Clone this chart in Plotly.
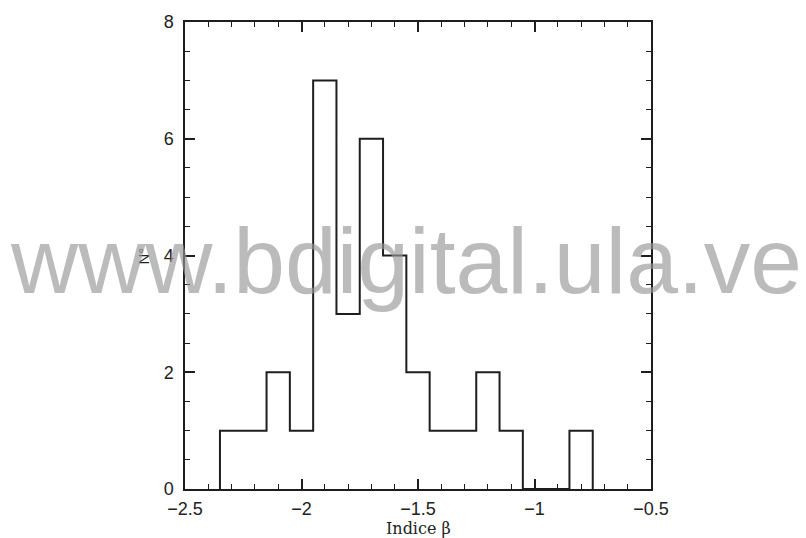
import plotly.graph_objects as go

# Data
bin_edges = [-2.35, -2.25, -2.15, -2.05, -1.95, -1.85, -1.75, -1.65, -1.55,
             -1.45, -1.35, -1.25, -1.15, -1.05, -0.95, -0.85, -0.75]
counts = [1, 1, 2, 1, 7, 3, 6, 4, 2, 1, 1, 2, 1, 0, 0, 1]

x_label = "Indice β"
y_label = "N°"
watermark = "www.bdigital.ula.ve"

# step outline (hv) from bin edges and counts
xs = [bin_edges[0]] + bin_edges[:-1] + [bin_edges[-1]]
ys = [0] + counts + [0]

W, H = 806, 538
L, R, T, B = 185, 155, 17, 49

fig = go.Figure()
fig.add_trace(go.Scatter(
    x=xs, y=ys, mode="lines", line_shape="hv",
    line=dict(color="#1e1e1e", width=2), hoverinfo="skip", showlegend=False,
))

axis_common = dict(
    showgrid=False, zeroline=False, showline=True, linecolor="#1e1e1e",
    linewidth=1.5, mirror="ticks", ticks="inside", tickcolor="#1e1e1e",
    tickwidth=1.5, ticklen=10,
    tickfont=dict(family="Liberation Sans, Arial, sans-serif", size=18, color="#222"),
)

fig.update_xaxes(
    range=[-2.5, -0.5], tickmode="linear", tick0=-2.5, dtick=0.5,
    minor=dict(dtick=0.1, ticks="inside", ticklen=5, tickcolor="#1e1e1e", tickwidth=1.2),
    ticklabelstandoff=3,
    **axis_common,
)
fig.update_yaxes(
    range=[0, 8], tickmode="linear", tick0=0, dtick=2,
    minor=dict(dtick=0.5, ticks="inside", ticklen=5, tickcolor="#1e1e1e", tickwidth=1.2),
    ticklabelstandoff=6,
    **axis_common,
)

pw = W - L - R
ph = H - T - B

fig.add_annotation(
    text=x_label, xref="paper", yref="paper", x=0.5, y=-(528.5 - (H - B)) / ph,
    xanchor="center", yanchor="middle", showarrow=False,
    font=dict(family="DejaVu Serif, Times New Roman, serif", size=16, color="#222"),
)
fig.add_annotation(
    text=y_label, xref="paper", yref="paper", x=-(L - 143) / pw, y=(H - B - 254) / ph,
    xanchor="center", yanchor="middle", showarrow=False, textangle=-90,
    font=dict(family="Liberation Sans, Arial, sans-serif", size=15, color="#222"),
)
fig.add_annotation(
    text=watermark, xref="paper", yref="paper",
    x=(406 - L) / pw, y=(H - B - 259) / ph,
    xanchor="center", yanchor="middle", showarrow=False,
    font=dict(family="Liberation Sans, Arial, sans-serif", size=93, color="rgba(150,150,150,0.65)"),
)

fig.update_layout(
    width=W, height=H, margin=dict(l=L, r=R, t=T, b=B),
    paper_bgcolor="white", plot_bgcolor="white",
)

fig.write_html("out.html")
